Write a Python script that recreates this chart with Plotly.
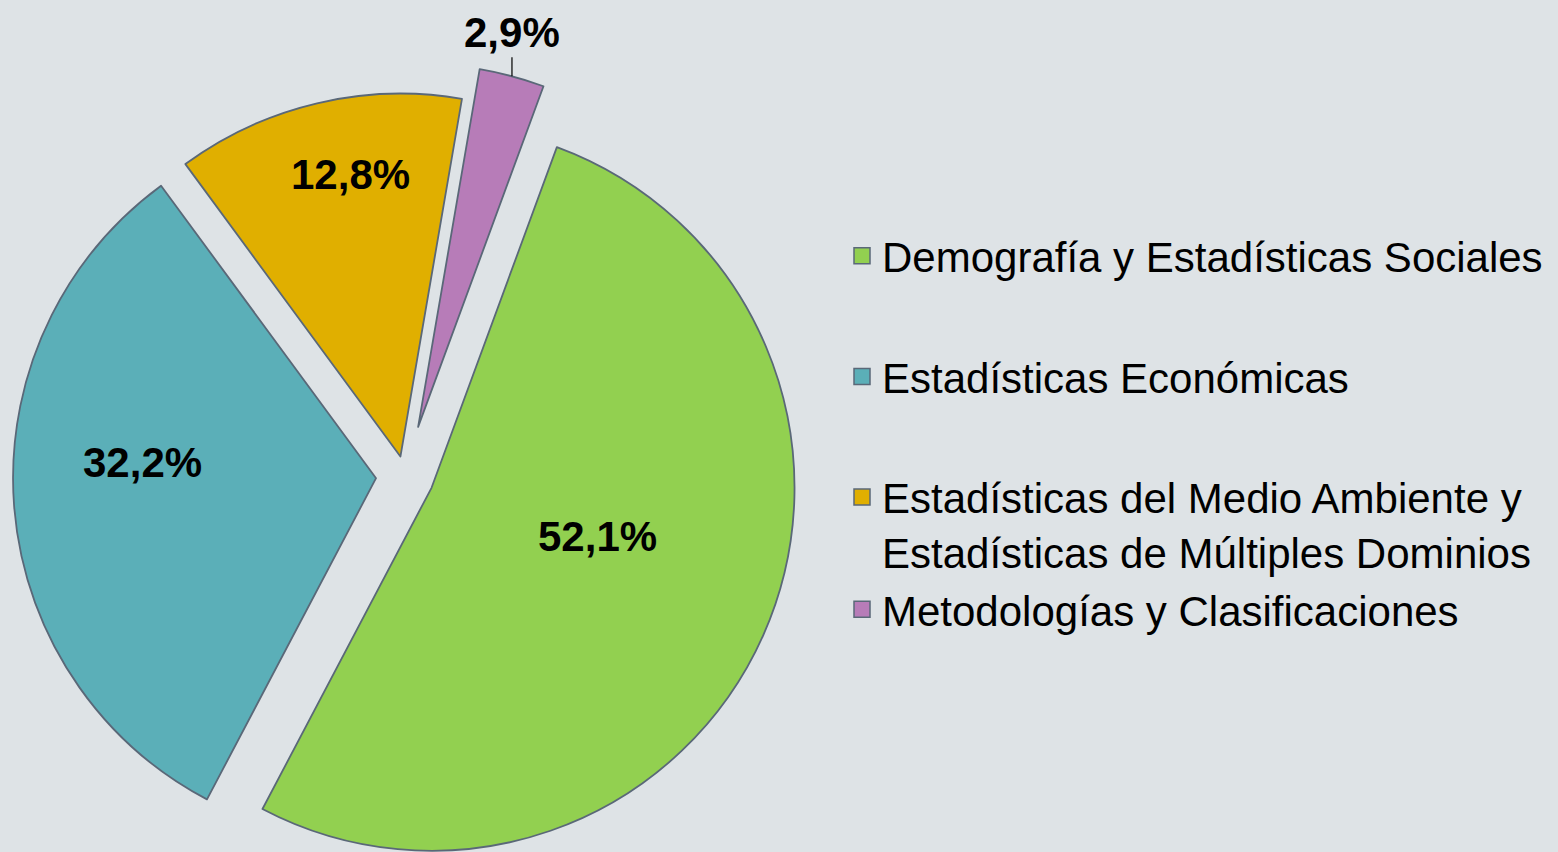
import math

import plotly.graph_objects as go

# Data
CATEGORIES = [
    "Demografía y Estadísticas Sociales",
    "Estadísticas Económicas",
    "Estadísticas del Medio Ambiente y<br>Estadísticas de Múltiples Dominios",
    "Metodologías y Clasificaciones",
]
SHARES = [52.1, 32.2, 12.8, 2.9]
COLORS = ["#92D050", "#5BAFB8", "#E0AF00", "#B77CB8"]

# Look
W, H = 1558, 852
PIE_CX, PIE_CY, PIE_R = 405, 476, 363
ROTATION = 20.2
PULL = [0.08, 0.08, 0.055, 0.14]
# (fraction of radius, fraction of slice angle) for each percentage label
LABEL_SPOT = [(0.477, 0.46), (0.645, 0.57), (0.79, 0.57), (1.0, 0.5)]
EDGE = "#5A6878"
BG = "#DEE3E6"
FONT = "Liberation Sans, Arial, sans-serif"
CLEAR = "rgba(0,0,0,0)"

total = sum(SHARES)
fig = go.Figure()

# One pie per slice, each showing only its own wedge, so every wedge can be
# exploded by its own amount without plotly shrinking the whole pie.
start = ROTATION
for i, share in enumerate(SHARES):
    span = 360 * share / total
    mid = math.radians(start + span / 2)
    shift = PULL[i] * PIE_R
    cx = PIE_CX + shift * math.sin(mid)
    cy = PIE_CY - shift * math.cos(mid)

    fig.add_trace(
        go.Pie(
            labels=CATEGORIES,
            values=SHARES,
            sort=False,
            direction="clockwise",
            rotation=ROTATION,
            marker=dict(
                colors=[c if j == i else CLEAR for j, c in enumerate(COLORS)],
                line=dict(
                    color=[EDGE if j == i else CLEAR for j in range(len(SHARES))],
                    width=[1.8 if j == i else 0 for j in range(len(SHARES))],
                ),
            ),
            textinfo="none",
            domain=dict(
                x=[(cx - PIE_R) / W, (cx + PIE_R) / W],
                y=[max(0, 1 - (cy + PIE_R) / H), min(1, 1 - (cy - PIE_R) / H)],
            ),
            showlegend=False,
        )
    )

    rf, af = LABEL_SPOT[i]
    ang = math.radians(start + af * span)
    lx = cx + rf * PIE_R * math.sin(ang)
    ly = cy - rf * PIE_R * math.cos(ang)
    text = f"<b>{100 * share / total:.1f}%</b>".replace(".", ",")
    outside = rf >= 1.0
    fig.add_annotation(
        x=lx / W,
        y=1 - ly / H,
        xref="paper",
        yref="paper",
        xanchor="center",
        yanchor="middle",
        text=text,
        showarrow=outside,
        ax=0,
        ay=-44,
        arrowhead=0,
        arrowwidth=1.2,
        arrowcolor="black",
        standoff=0,
        font=dict(family=FONT, size=42, color="black"),
    )
    start += span

# Legend entries
groups = ["g1", "g2", "g3", "g3"]
for label, color, grp in zip(CATEGORIES, COLORS, groups):
    fig.add_trace(
        go.Scatter(
            x=[None],
            y=[None],
            mode="markers",
            name=label,
            legendgroup=grp,
            marker=dict(symbol="square", size=16, color=color,
                        line=dict(color=EDGE, width=1.5)),
        )
    )

fig.update_layout(
    width=W,
    height=H,
    margin=dict(l=0, r=0, t=0, b=0),
    paper_bgcolor=BG,
    plot_bgcolor=BG,
    xaxis=dict(visible=False),
    yaxis=dict(visible=False),
    legend=dict(
        x=842 / W,
        y=1 - 222 / H,
        xanchor="left",
        yanchor="top",
        font=dict(family=FONT, size=42, color="black"),
        tracegroupgap=63,
        traceorder="grouped",
        valign="top",
        bgcolor=CLEAR,
    ),
)

fig.write_html(
    "out.html",
    config={"displayModeBar": False},
    post_script="document.body.style.margin='0';",
)
